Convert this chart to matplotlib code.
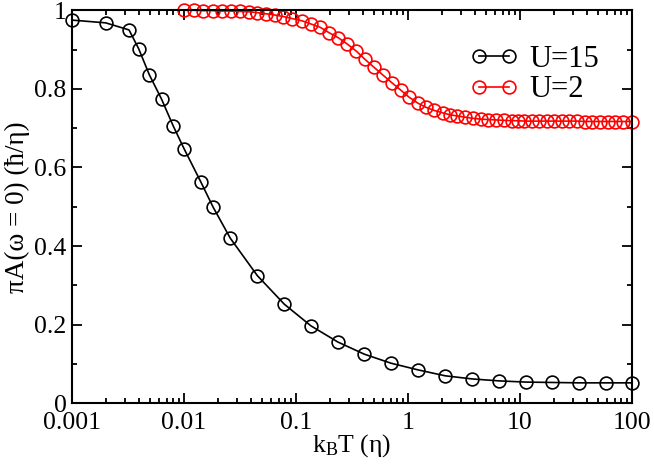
import matplotlib
matplotlib.use('Agg')
import matplotlib.pyplot as plt
from matplotlib.ticker import FuncFormatter, LogLocator, MultipleLocator

plt.rcParams['font.family'] = ['Liberation Serif', 'DejaVu Serif']
plt.rcParams['mathtext.fontset'] = 'custom'
plt.rcParams['mathtext.rm'] = 'Liberation Serif'
plt.rcParams['mathtext.it'] = 'Liberation Serif:italic'

# U=15 curve
t_u15 = [0.001, 0.002, 0.00323, 0.00394, 0.0049, 0.0063, 0.008, 0.01, 0.0142,
         0.0182, 0.0259, 0.0451, 0.0787, 0.136, 0.236, 0.407, 0.705, 1.23,
         2.14, 3.73, 6.50, 11.2, 19.4, 33.6, 58.2, 100.0]
a_u15 = [0.975, 0.968, 0.950, 0.902, 0.836, 0.774, 0.706, 0.648, 0.562,
         0.499, 0.420, 0.325, 0.252, 0.197, 0.156, 0.125, 0.102, 0.085,
         0.070, 0.062, 0.057, 0.054, 0.053, 0.052, 0.052, 0.052]

# U=2 curve
t_u2 = [0.0100, 0.01228, 0.01486, 0.01803, 0.02172, 0.02614, 0.03143, 0.03784,
        0.04510, 0.05395, 0.06452, 0.07706, 0.0921, 0.1138, 0.1361, 0.1637,
        0.1971, 0.2387, 0.2871, 0.3455, 0.4130, 0.4969, 0.5977, 0.7148,
        0.8604, 1.021, 1.236, 1.448, 1.718, 2.042, 2.372, 2.757, 3.249,
        3.782, 4.459, 5.179, 6.103, 7.147, 8.429, 9.658, 10.92, 12.71,
        14.78, 17.30, 20.23, 23.56, 27.54, 32.26, 38.02, 44.18, 51.76,
        60.64, 70.47, 83.56, 100.0]
a_u2 = [1.000, 1.000, 0.999, 0.999, 0.998, 0.998, 0.997, 0.996,
        0.994, 0.991, 0.988, 0.984, 0.979, 0.973, 0.965, 0.957,
        0.943, 0.930, 0.914, 0.896, 0.875, 0.855, 0.835, 0.816,
        0.797, 0.779, 0.763, 0.753, 0.745, 0.739, 0.734, 0.731, 0.728,
        0.725, 0.723, 0.722, 0.721, 0.720, 0.719, 0.719, 0.718, 0.718,
        0.718, 0.718, 0.718, 0.718, 0.718, 0.718, 0.717, 0.717, 0.717,
        0.717, 0.717, 0.717, 0.717]

fig = plt.figure(figsize=(6.54, 4.65), dpi=100)
ax = fig.add_axes([0.1101, 0.1327, 0.8563, 0.8452])

ax.plot(t_u15, a_u15, color='black', lw=1.2, marker='o', ms=9.2,
        mfc='none', mec='black', mew=1.2, clip_on=False, label='U=15')
ax.plot(t_u2, a_u2, color='red', lw=1.2, marker='o', ms=9.2,
        mfc='none', mec='red', mew=1.2, clip_on=False, label='U=2')

ax.set_xscale('log')
ax.set_xlim(0.001, 100)
ax.set_ylim(0, 1)
ax.xaxis.set_major_locator(LogLocator(base=10, numticks=10))
ax.xaxis.set_minor_locator(LogLocator(base=10, subs=range(2, 10), numticks=20))
ax.xaxis.set_major_formatter(FuncFormatter(lambda v, p: '%g' % v))
ax.yaxis.set_major_locator(MultipleLocator(0.2))
ax.yaxis.set_minor_locator(MultipleLocator(0.1))
ax.yaxis.set_major_formatter(FuncFormatter(lambda v, p: '%g' % v))

for s in ax.spines.values():
    s.set_linewidth(1.5)
ax.tick_params(which='both', direction='in', top=True, right=True,
               width=1.3, labelsize=18.5)
ax.tick_params(which='major', length=7)
ax.tick_params(which='minor', length=3.6)
ax.tick_params(axis='x', pad=6)
ax.tick_params(axis='y', pad=4)

ax.set_xlabel(r'k$_\mathrm{B}$T (η)', fontsize=18.5, labelpad=-1)
ax.set_ylabel('πA(ω = 0) (ħ/η)', fontsize=19.5, labelpad=3)

ax.legend(loc='upper left', bbox_to_anchor=(0.71, 0.912), frameon=False,
          fontsize=22, numpoints=2, handlelength=1.6, handletextpad=0.35,
          labelspacing=0.05, borderpad=0, borderaxespad=0)

fig.savefig('out.png', dpi=100)
